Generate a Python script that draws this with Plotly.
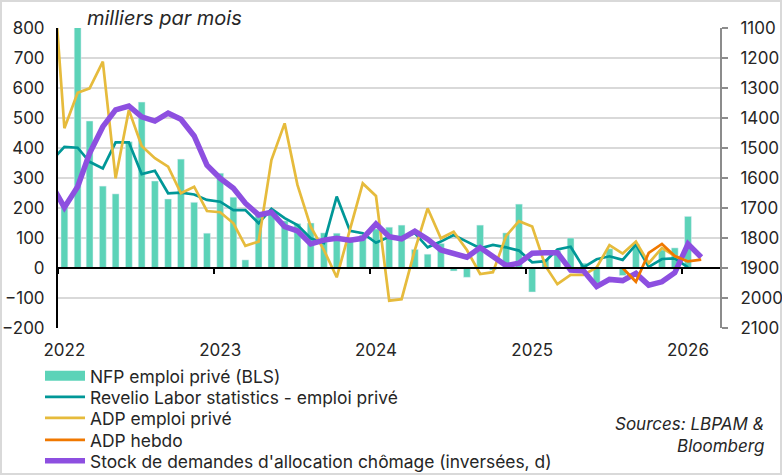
import plotly.graph_objects as go
import pandas as pd

# Monthly observations, Dec 2021 .. Feb 2026 (plotted mid-month)
months = [d + pd.Timedelta(days=15) for d in pd.date_range("2021-12-01", "2026-02-01", freq="MS")]

# NFP private payrolls (BLS), thousands
nfp = [None,
       210, 820, 490, 273, 247, 421, 553, 290, 230, 363,
       219, 116, 316, 236, 27, 183, 183, 157, 148, 150,
       117, 116, 96, 110, 130, 136, 143, 62, 46, 82,
       -10, -31, 143, -7, 117, 213, -80, 30, 58, 100,
       16, -51, 64, -25, 80, None, 60, 67, 172,
       None]

# Revelio Labor statistics - private employment
revelio = [356,
           404, 401, 354, 332, 419, 419, 313, 324, 249, 251,
           245, 227, 221, 193, 193, 149, 197, 166, 143, 99,
           83, 238, 124, 116, 84, 104, 102, 116, 69, 88,
           110, 88, 66, 77, 69, 58, 19, 23, 62, 71,
           2, 29, 39, 27, 78, 4, 30, 32, 2,
           None]

# ADP private employment
adp = [1080,
       466, 584, 599, 688, 299, 527, 407, 366, 338, 249,
       271, 190, 186, 149, 74, 88, 360, 482, 277, 138,
       60, -31, 127, 282, 240, -109, -104, 60, 199, 99,
       121, 60, -20, -14, 107, 156, 138, 7, -54, -23,
       -23, 2, 76, 48, 88, 16, 67, 40, 22,
       None]

# ADP weekly (monthly equivalent)
adp_weekly = [None, None, None, None, None, None, None, None, None, None, None,
              None, None, None, None, None, None, None, None, None, None,
              None, None, None, None, None, None, None, None, None, None,
              None, None, None, None, None, None, None, None, None, None,
              None, None, None, 0, -46, 50, 80, 40, 22, 28]

# Continuing jobless claims (thousands, right axis inverted)
claims = [1620,
          1698, 1629, 1518, 1429, 1373, 1360, 1396, 1410, 1384, 1404,
          1460, 1557, 1601, 1634, 1684, 1723, 1714, 1762, 1776, 1820,
          1807, 1801, 1807, 1801, 1753, 1796, 1803, 1777, 1804, 1840,
          1852, 1864, 1832, 1862, 1892, 1884, 1851, 1849, 1849, 1907,
          1909, 1962, 1938, 1942, 1918, 1957, 1946, 1916, 1820, 1864]

years = [2022, 2023, 2024, 2025, 2026]
left_ticks = [800, 700, 600, 500, 400, 300, 200, 100, 0, -100, -200]
right_ticks = [1100, 1200, 1300, 1400, 1500, 1600, 1700, 1800, 1900, 2000, 2100]

names = ["NFP emploi privé (BLS)", "Revelio Labor statistics - emploi privé",
         "ADP emploi privé", "ADP hebdo",
         "Stock de demandes d'allocation chômage (inversées, d)"]

C_BAR = "#5CD3B8"
C_REV = "#009797"
C_ADP = "#E6BB3C"
C_HEB = "#F07800"
C_CLM = "#8D4FE0"

fig = go.Figure()
fig.add_trace(go.Bar(x=months, y=nfp, marker_color=C_BAR, width=16 * 86400000,
                     showlegend=False, name=names[0]))
# legend swatch for the bars
fig.add_trace(go.Scatter(x=[months[1]], y=[None], mode="lines", legend="legend",
                         line=dict(color=C_BAR, width=10), name=names[0]))
fig.add_trace(go.Scatter(x=months, y=revelio, mode="lines", legend="legend2",
                         line=dict(color=C_REV, width=2.7), name=names[1]))
fig.add_trace(go.Scatter(x=months, y=adp, mode="lines", legend="legend3",
                         line=dict(color=C_ADP, width=2.7), name=names[2]))
fig.add_trace(go.Scatter(x=months, y=adp_weekly, mode="lines", xaxis="x2", legend="legend4",
                         line=dict(color=C_HEB, width=2.7), name=names[3]))
fig.add_trace(go.Scatter(x=months, y=claims, mode="lines", yaxis="y2", legend="legend5",
                         line=dict(color=C_CLM, width=5.5), name=names[4]))

xr = ["2022-01-01", "2026-04-01"]
L, R, T, B = 58, 62, 28, 147
W, H = 782, 475
pw, ph = W - L - R, H - T - B

def px_x(p):
    return (p - L) / pw

def px_y(p):
    return 1 - (p - T) / ph

FS = 17
legend_rows = [376, 397, 418, 440, 461]
legends = {}
for k, yy in enumerate(legend_rows):
    key = "legend" if k == 0 else f"legend{k + 1}"
    legends[key] = dict(x=px_x(40), y=px_y(yy), xanchor="left", yanchor="middle",
                        bgcolor="rgba(0,0,0,0)", itemwidth=40, font=dict(size=17.4))

fig.update_layout(
    width=W, height=H,
    margin=dict(l=L, r=R, t=T, b=B, autoexpand=False),
    plot_bgcolor="white", paper_bgcolor="white",
    font=dict(family="Inter", size=FS, color="#262626"),
    barmode="overlay",
    xaxis=dict(type="date", range=xr, tickvals=[f"{y}-01-16" for y in years],
               ticktext=[str(y) for y in years], ticks="", showgrid=False,
               showline=False, zeroline=False, ticklabelstandoff=10),
    xaxis2=dict(type="date", range=xr, overlaying="x", anchor="free", position=0.2,
                tickvals=[f"{y}-01-01" for y in years], ticks="outside", ticklen=5,
                tickwidth=2, tickcolor="black", showticklabels=False, showgrid=False,
                showline=True, linecolor="black", linewidth=2, zeroline=False),
    yaxis=dict(range=[-200, 800], tickvals=left_ticks, showgrid=True,
               gridcolor="#d9d9d9", gridwidth=1.5, showline=True, linecolor="black",
               linewidth=2, zeroline=False, ticks="", ticklabelstandoff=8),
    yaxis2=dict(range=[2100, 1100], tickvals=right_ticks, overlaying="y", side="right",
                showgrid=False, zeroline=False, showline=True, linecolor="#8c8c8c",
                linewidth=2, ticks="outside", ticklen=6, tickwidth=2,
                tickcolor="#8c8c8c", ticklabelstandoff=9),
    annotations=[
        dict(text="<i>milliers par mois</i>", xref="paper", yref="paper",
             x=px_x(85), y=px_y(18), xanchor="left", yanchor="middle",
             showarrow=False, font=dict(size=20)),
        dict(text="<i>Sources: LBPAM &amp;<br>Bloomberg</i>", xref="paper", yref="paper",
             x=px_x(766), y=px_y(435), xanchor="right", yanchor="middle", align="right",
             showarrow=False, font=dict(size=FS)),
    ],
    shapes=[dict(type="rect", xref="paper", yref="paper",
                 x0=px_x(1), x1=px_x(781), y0=px_y(474), y1=px_y(1),
                 line=dict(color="#d9d9d9", width=2), layer="below")],
    **legends,
)

fig.write_html("out.html", config={"displayModeBar": False},
               post_script="document.body.style.margin='0';")
